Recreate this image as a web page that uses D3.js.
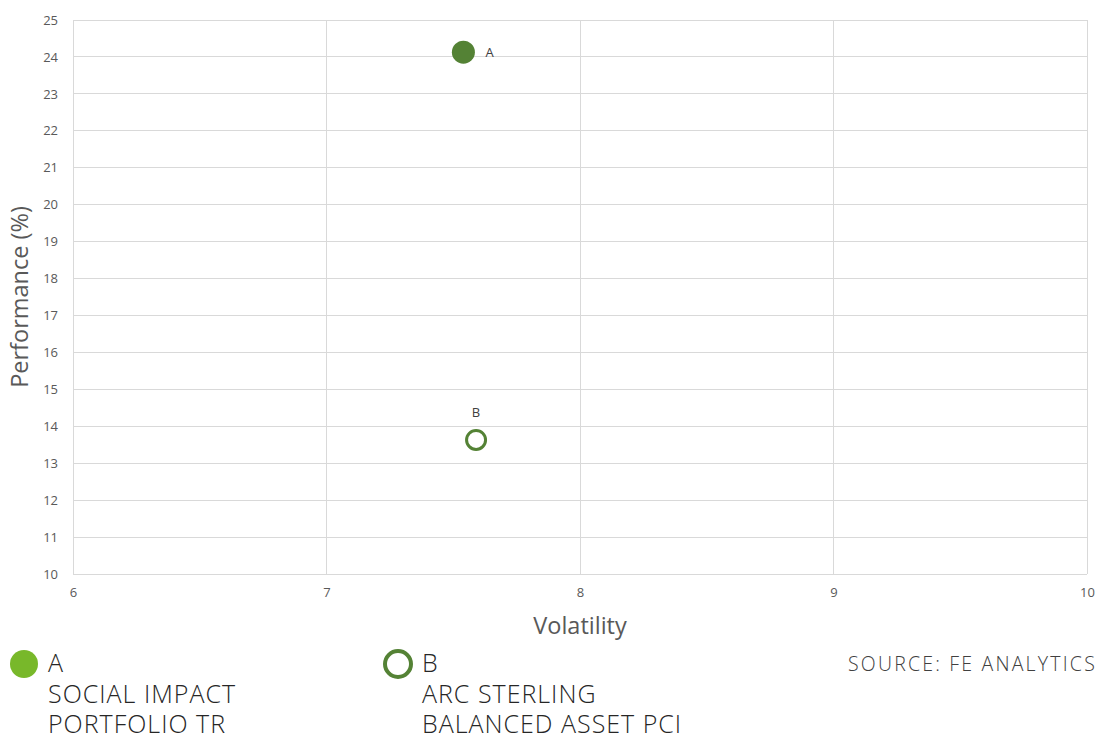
<!DOCTYPE html>
<html><head><meta charset="utf-8">
<script src="https://cdn.jsdelivr.net/npm/d3@7"></script>
<style>body{margin:0;background:#fff}svg{display:block}</style>
</head><body>
<svg id="c" width="1098" height="738"></svg>
<script>
const labels = ["A", "B"];
const names = [["SOCIAL IMPACT", "PORTFOLIO TR"], ["ARC STERLING", "BALANCED ASSET PCI"]];
const volatility = [7.54, 7.59];
const performance = [24.13, 13.63];
const xTicks = [6, 7, 8, 9, 10];
const yTicks = [10, 11, 12, 13, 14, 15, 16, 17, 18, 19, 20, 21, 22, 23, 24, 25];
const source = "SOURCE: FE ANALYTICS";

const svg = d3.select("#c");
const font = "'Open Sans', sans-serif";
const L = 73, R = 1087, T = 20, B = 574;
const x = d3.scaleLinear().domain([6, 10]).range([L, R]);
const y = d3.scaleLinear().domain([10, 25]).range([B, T]);
const grid = "#d9d9d9";

// gridlines
svg.append("g").selectAll("line").data(yTicks).join("line")
  .attr("x1", L).attr("x2", R).attr("y1", d => y(d)).attr("y2", d => y(d))
  .attr("stroke", grid).attr("stroke-width", 1).attr("shape-rendering", "crispEdges");
svg.append("g").selectAll("line").data(xTicks).join("line")
  .attr("y1", T).attr("y2", B).attr("x1", d => x(d)).attr("x2", d => x(d))
  .attr("stroke", grid).attr("stroke-width", 1).attr("shape-rendering", "crispEdges");

// axes
const yAxis = svg.append("g").attr("transform", `translate(${L},0)`)
  .call(d3.axisLeft(y).tickValues(yTicks).tickFormat(d3.format("d")).tickSize(0).tickPadding(15));
const xAxis = svg.append("g").attr("transform", `translate(0,${B})`)
  .call(d3.axisBottom(x).tickValues(xTicks).tickFormat(d3.format("d")).tickSize(0).tickPadding(14));
[yAxis, xAxis].forEach(a => {
  a.select(".domain").remove();
  a.selectAll("text").attr("font-family", font).attr("font-size", 13).attr("fill", "#595959");
});

// axis titles
svg.append("text").attr("x", x(8)).attr("y", 634).attr("text-anchor", "middle")
  .attr("font-family", font).attr("font-size", 23.5).attr("fill", "#595959").text("Volatility");
svg.append("text").attr("transform", `translate(28,${(T + B) / 2}) rotate(-90)`)
  .attr("text-anchor", "middle").attr("font-family", font).attr("font-size", 23.5)
  .attr("fill", "#595959").text("Performance (%)");

// points
const dark = "#548235";
svg.append("circle").attr("cx", x(volatility[0])).attr("cy", y(performance[0])).attr("r", 11.5).attr("fill", dark);
svg.append("text").attr("x", x(volatility[0]) + 22).attr("y", y(performance[0]) + 5)
  .attr("font-family", font).attr("font-size", 13).attr("fill", "#404040").text(labels[0]);
svg.append("circle").attr("cx", x(volatility[1])).attr("cy", y(performance[1])).attr("r", 9.5)
  .attr("fill", "#fff").attr("stroke", dark).attr("stroke-width", 3);
svg.append("text").attr("x", x(volatility[1])).attr("y", y(performance[1]) - 23).attr("text-anchor", "middle")
  .attr("font-family", font).attr("font-size", 13).attr("fill", "#404040").text(labels[1]);

// legend
const legX = [48, 422];
svg.append("circle").attr("cx", 24).attr("cy", 664).attr("r", 14).attr("fill", "#78b82a");
svg.append("circle").attr("cx", 398).attr("cy", 664).attr("r", 13).attr("fill", "#fff")
  .attr("stroke", dark).attr("stroke-width", 4);
labels.forEach((lab, i) => {
  const t = svg.append("text").attr("font-family", font).attr("font-size", 25)
    .attr("font-weight", 300).attr("letter-spacing", 1).attr("fill", "#262626");
  [lab, ...names[i]].forEach((s, j) => {
    t.append("tspan").attr("x", legX[i]).attr("y", 672 + j * 30.5).text(s);
  });
});
svg.append("text").attr("x", 1097).attr("y", 671).attr("text-anchor", "end")
  .attr("font-family", font).attr("font-size", 19.5).attr("font-weight", 300)
  .attr("letter-spacing", 2.2).attr("fill", "#404040").text(source);
</script>
</body></html>
